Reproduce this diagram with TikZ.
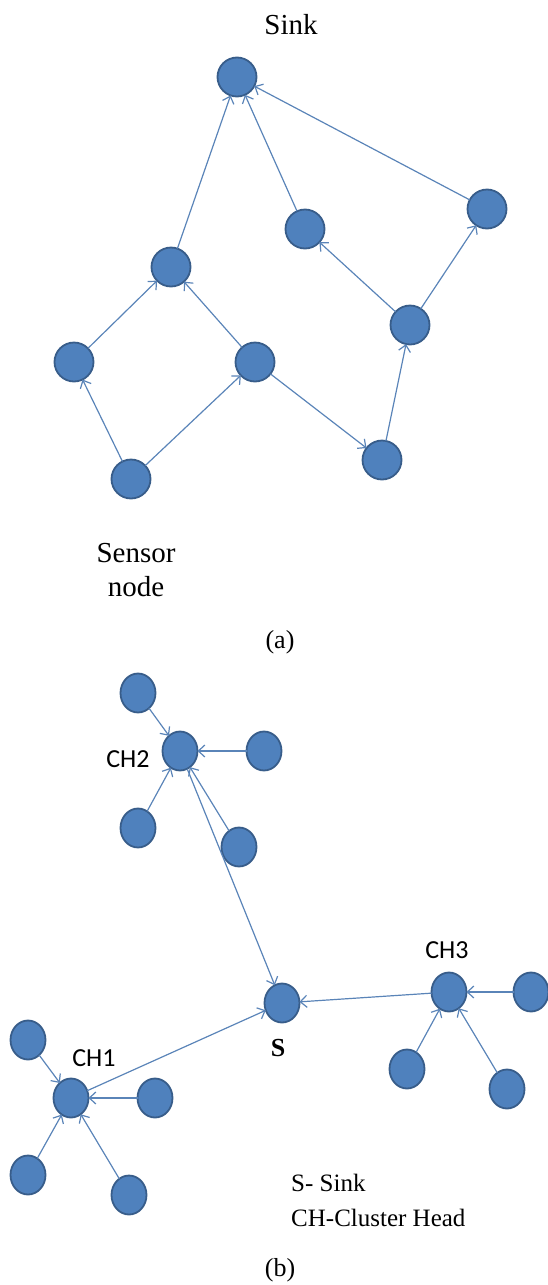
\documentclass[tikz,border=0pt]{standalone}
\usepackage{fontspec}
\setmainfont{Liberation Serif}
\newfontfamily\calib{Carlito}
\usetikzlibrary{arrows.meta,shapes.geometric}
\definecolor{nodefill}{HTML}{4F81BD}
\definecolor{nodeline}{HTML}{385D8A}
\definecolor{edgecol}{HTML}{5A84B8}
\begin{document}
\begin{tikzpicture}[x=1pt,y=-1pt,
  sn/.style={circle,fill=nodefill,draw=nodeline,line width=1.8pt,minimum size=39pt,inner sep=0pt,outer sep=0pt},
  sb/.style={ellipse,fill=nodefill,draw=nodeline,line width=1.8pt,minimum width=35pt,minimum height=39pt,inner sep=0pt,outer sep=0pt},
  ed/.style={draw=edgecol,line width=1.2pt,-{Straight Barb[length=6.5pt,width=12pt]}},
  lab/.style={font=\fontsize{29}{34}\selectfont,align=center,inner sep=0pt},
  labs/.style={font=\fontsize{25}{35}\selectfont,align=left,inner sep=0pt},
  chl/.style={font=\calib\fontsize{26}{30}\selectfont,inner sep=0pt}
]
\useasboundingbox (0,0) rectangle (548,1285);
% (a)
\node[sn] (sink) at (237,77) {};
\node[sn] (a1) at (171,267) {};
\node[sn] (a2) at (305,229) {};
\node[sn] (a3) at (487,209) {};
\node[sn] (a4) at (74,362) {};
\node[sn] (a5) at (255,362) {};
\node[sn] (a6) at (410,325) {};
\node[sn] (a7) at (131,479) {};
\node[sn] (a8) at (382,460) {};
\draw[ed] (a1) -- (sink);
\draw[ed] (a2) -- (sink);
\draw[ed] (a3) -- (sink);
\draw[ed] (a4) -- (a1);
\draw[ed] (a5) -- (a1);
\draw[ed] (a7) -- (a4);
\draw[ed] (a7) -- (a5);
\draw[ed] (a5) -- (a8);
\draw[ed] (a8) -- (a6);
\draw[ed] (a6) -- (a2);
\draw[ed] (a6) -- (a3);
\node[lab] (tsink) at (291,25) {Sink};
\node[lab] (tsensor) at (136,570) {Sensor\\node};
\node[lab,font=\fontsize{26}{30}\selectfont] (ta) at (280,642) {(a)};
% (b)
\node[sb] (t1) at (138,693) {};
\node[sb] (ch2) at (180,751) {};
\node[sb] (t2) at (264,751) {};
\node[sb] (t3) at (138,828) {};
\node[sb] (t4) at (239,847) {};
\node[sb] (s) at (282,1003) {};
\node[sb] (ch3) at (449,992) {};
\node[sb] (u1) at (531,992) {};
\node[sb] (u2) at (407,1069) {};
\node[sb] (u3) at (507,1089) {};
\node[sb] (ch1) at (71,1098) {};
\node[sb] (v1) at (28,1040) {};
\node[sb] (v2) at (155,1098) {};
\node[sb] (v3) at (28,1175) {};
\node[sb] (v4) at (129,1195) {};
\draw[ed] (t1) -- (ch2);
\draw[ed] (t2) -- (ch2);
\draw[ed] (t3) -- (ch2);
\draw[ed] (t4) -- (ch2);
\draw[ed] (ch2) -- (s);
\draw[ed] (ch3) -- (s);
\draw[ed] (u1) -- (ch3);
\draw[ed] (u2) -- (ch3);
\draw[ed] (u3) -- (ch3);
\draw[ed] (ch1) -- (s);
\draw[ed] (v1) -- (ch1);
\draw[ed] (v2) -- (ch1);
\draw[ed] (v3) -- (ch1);
\draw[ed] (v4) -- (ch1);
\node[chl] (lch2) at (128,759) {CH2};
\node[chl] (lch3) at (447,950) {CH3};
\node[chl] (lch1) at (94,1058) {CH1};
\node[lab,font=\bfseries\fontsize{26}{30}\selectfont] (ls) at (278,1048) {S};
\node[labs,anchor=west] (legend) at (291,1200) {S- Sink\\CH-Cluster Head};
\node[lab,font=\fontsize{26}{30}\selectfont] (tb) at (280,1270) {(b)};
\end{tikzpicture}
\end{document}
